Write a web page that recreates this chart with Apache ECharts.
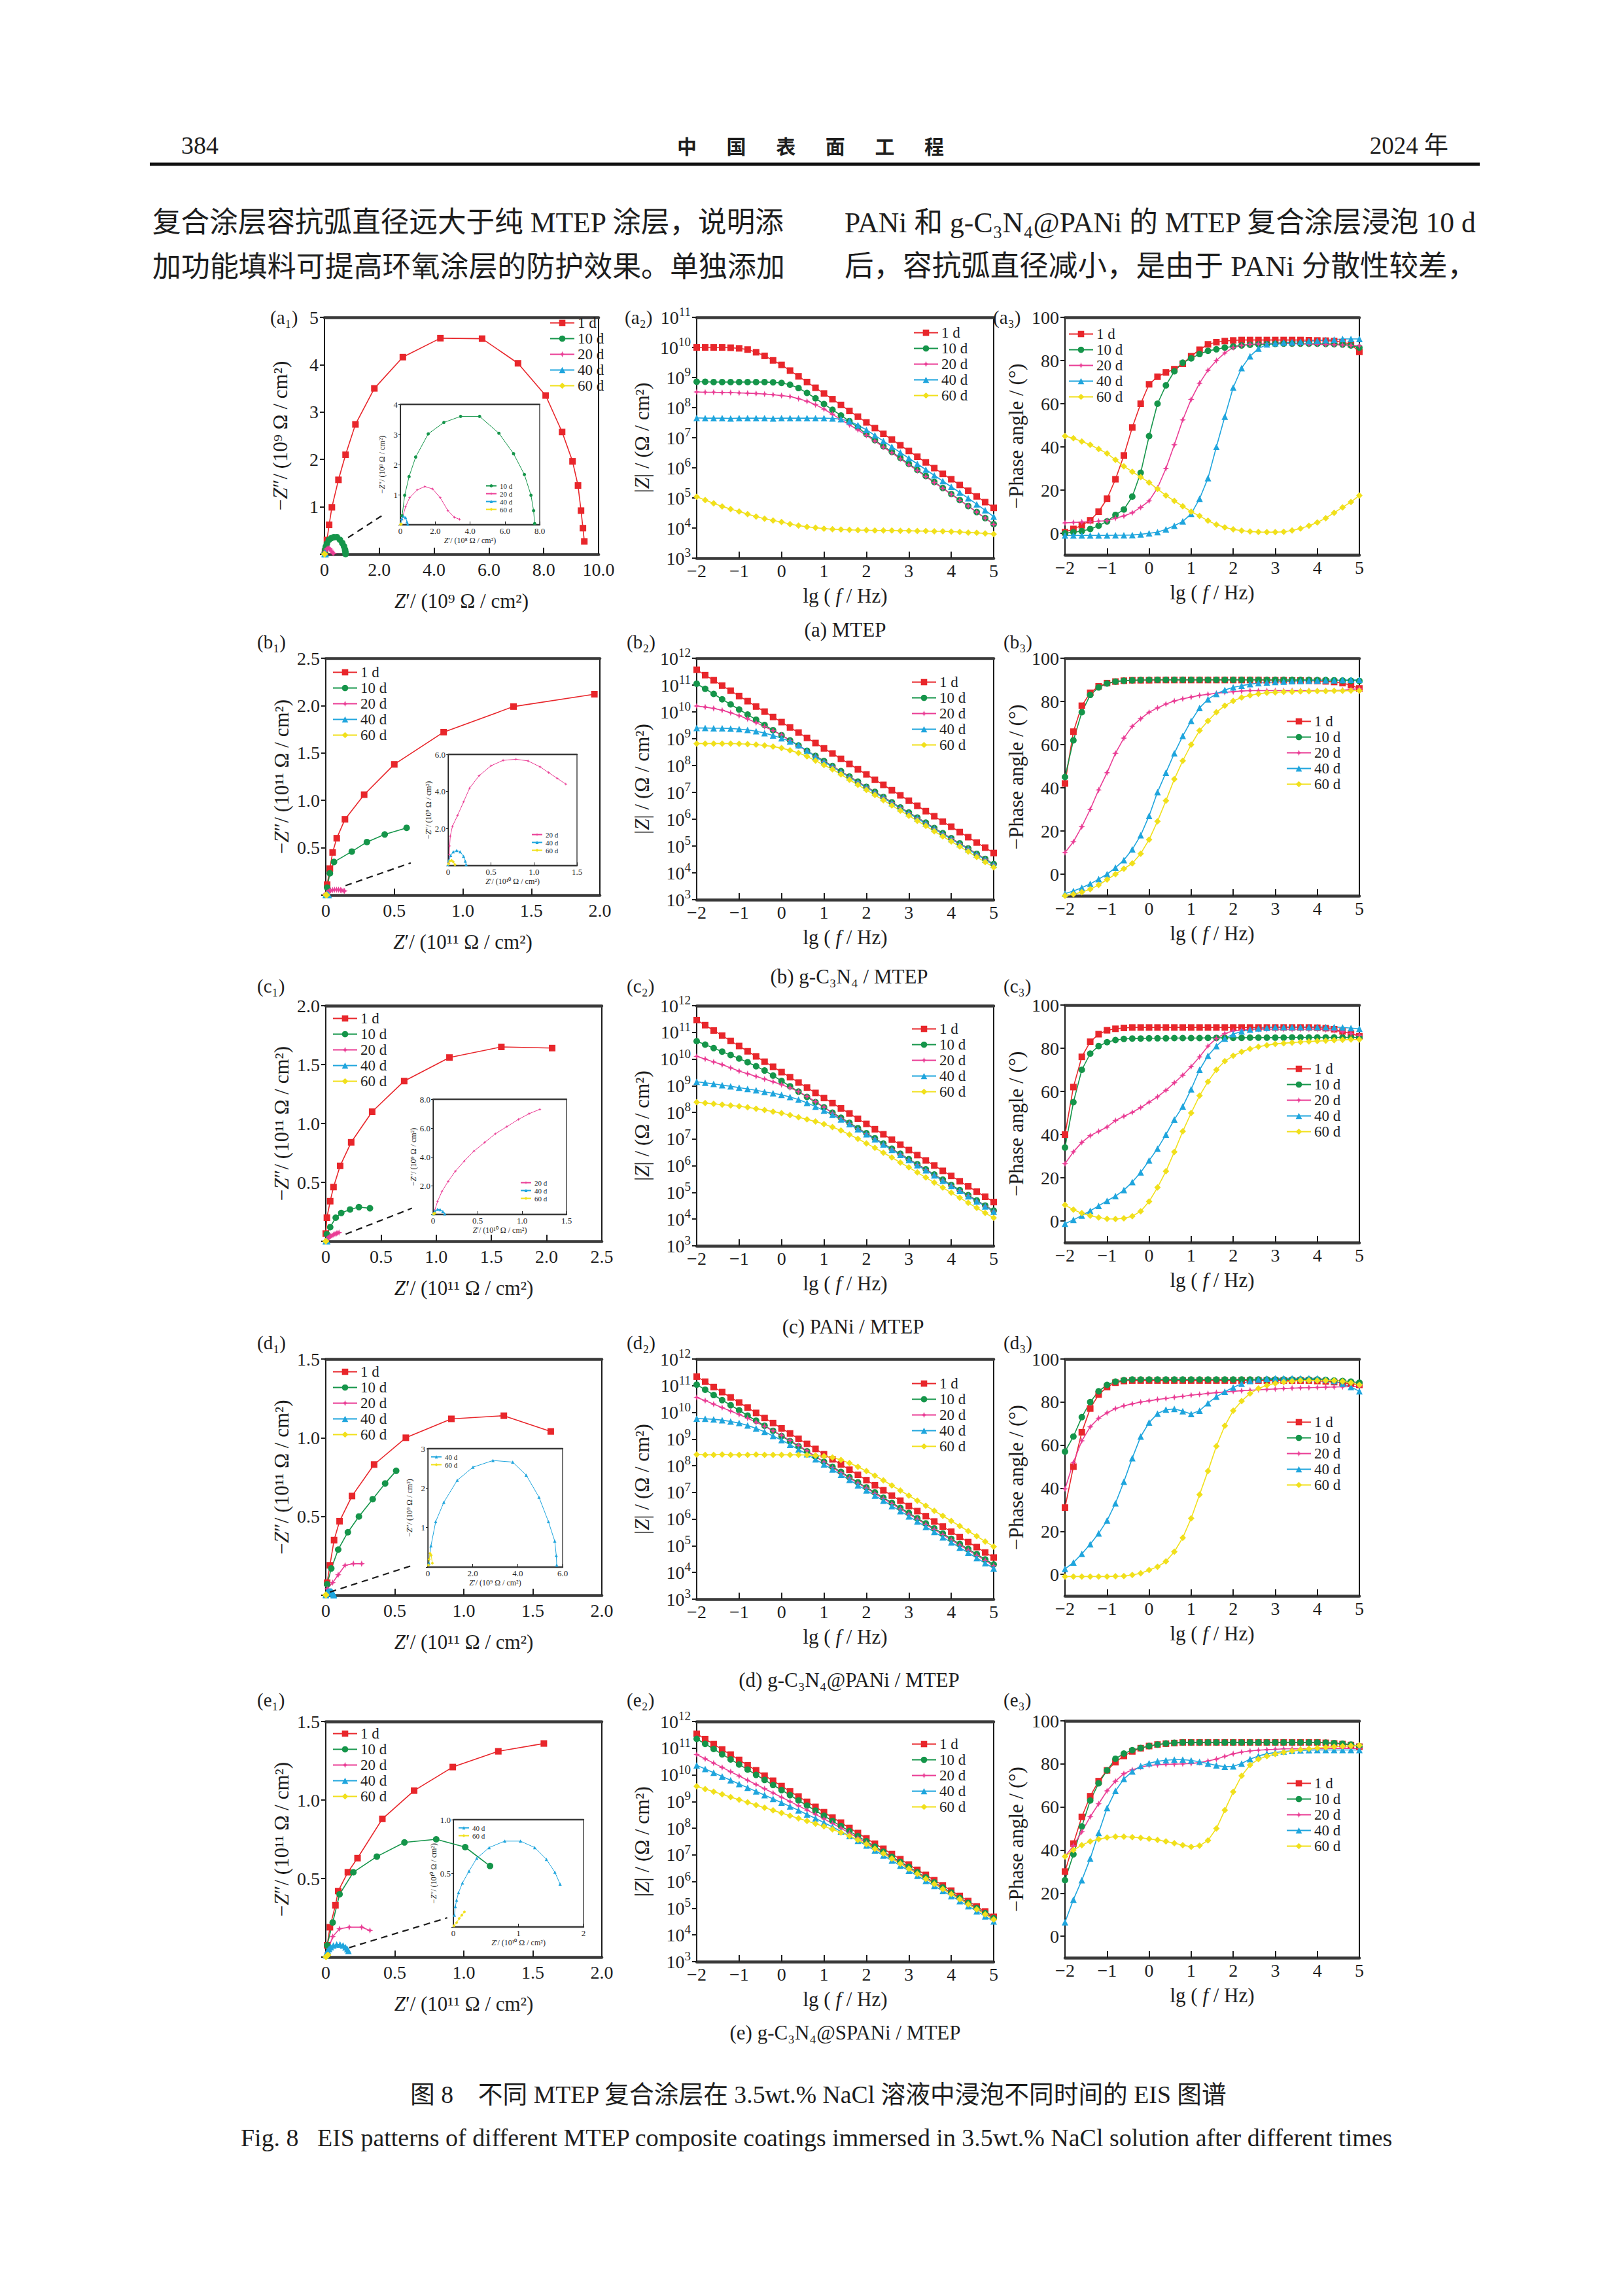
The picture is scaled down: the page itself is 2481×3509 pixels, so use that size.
<!DOCTYPE html>
<html><head><meta charset="utf-8">
<script src="https://cdn.jsdelivr.net/npm/echarts@6/dist/echarts.min.js"></script>
<style>html,body{margin:0;padding:0;background:#fff}#c{width:2481px;height:3509px}</style>
</head><body><div id="c"></div>
<script>
// ---------------- DATA ----------------
const DAYS = ['1 d','10 d','20 d','40 d','60 d'];
// lg(f/Hz) sampling of the Bode plots
const LG_F = [-2,-1.8,-1.6,-1.4,-1.2,-1,-0.8,-0.6,-0.4,-0.2,0,0.2,0.4,0.6,0.8,1,1.2,1.4,1.6,1.8,2,2.2,2.4,2.6,2.8,3,3.2,3.4,3.6,3.8,4,4.2,4.4,4.6,4.8,5];

// (a) MTEP — Nyquist main in 1e9 Ω·cm², inset in 1e8 Ω·cm²
const a1_1d = [[0.02,0.05],[0.09,0.30],[0.17,0.62],[0.27,0.99],[0.51,1.57],[0.77,2.10],[1.13,2.74],[1.82,3.50],[2.86,4.16],[4.23,4.56],[5.75,4.55],[7.06,4.03],[8.07,3.35],[8.67,2.58],[9.05,1.96],[9.25,1.45],[9.36,0.92],[9.43,0.55],[9.48,0.27]];
const a1in_10d = [[0.10,0.30],[0.25,0.98],[0.50,1.60],[0.88,2.25],[1.60,3.02],[2.50,3.40],[3.46,3.60],[4.55,3.60],[5.66,3.04],[6.50,2.36],[7.12,1.67],[7.50,0.98],[7.65,0.47],[7.71,0.04]];
const a1in_20d = [[0.09,0.18],[0.30,0.60],[0.53,0.90],[0.97,1.16],[1.41,1.27],[1.85,1.19],[2.29,0.90],[2.73,0.47],[3.10,0.25],[3.40,0.18]];
const a1in_40d = [[0.03,0.05],[0.08,0.20],[0.18,0.28],[0.30,0.24],[0.38,0.10],[0.42,0.02]];
const a1in_60d = [[0.01,0.01],[0.03,0.02],[0.05,0.02]];
// lg|Z|
const a2_1d = [10.00,10.00,10.00,10.00,9.99,9.97,9.93,9.84,9.72,9.57,9.42,9.23,9.04,8.85,8.66,8.47,8.28,8.09,7.89,7.70,7.51,7.32,7.13,6.94,6.75,6.56,6.37,6.18,5.99,5.80,5.62,5.43,5.24,5.05,4.86,4.67];
const a2_10d = [8.86,8.86,8.85,8.85,8.85,8.85,8.85,8.85,8.85,8.84,8.82,8.76,8.65,8.49,8.31,8.12,7.93,7.74,7.55,7.34,7.12,6.92,6.72,6.53,6.33,6.13,5.93,5.73,5.53,5.33,5.13,4.93,4.73,4.53,4.33,4.13];
const a2_20d = [8.52,8.51,8.51,8.50,8.50,8.49,8.48,8.47,8.45,8.43,8.40,8.37,8.30,8.21,8.10,7.95,7.78,7.60,7.43,7.26,7.08,6.89,6.69,6.50,6.30,6.10,5.91,5.71,5.51,5.32,5.12,4.92,4.73,4.53,4.33,4.12];
const a2_40d = [7.66,7.65,7.65,7.65,7.64,7.65,7.65,7.65,7.65,7.64,7.65,7.65,7.65,7.65,7.65,7.65,7.64,7.62,7.55,7.42,7.26,7.08,6.89,6.70,6.51,6.32,6.13,5.94,5.75,5.56,5.37,5.18,4.99,4.79,4.59,4.38];
const a2_60d = [5.04,4.93,4.82,4.72,4.63,4.55,4.46,4.38,4.31,4.25,4.20,4.13,4.08,4.04,4.01,3.98,3.96,3.95,3.94,3.93,3.93,3.92,3.92,3.92,3.91,3.91,3.90,3.90,3.89,3.89,3.88,3.87,3.85,3.84,3.82,3.80];
// -phase (deg)
const a3_1d = [0.5,2,3.7,6,10,16,25,36,49,60,69,72.5,74.5,76,78.5,82,85,87.5,88.5,89,89.3,89.5,89.5,89.5,89.5,89.5,89.5,89.5,89.5,89.4,89.3,89.2,89,88.5,87.5,84];
const a3_10d = [0,0.5,1,2,3.5,5.5,8.5,11,17,28,45,60,68.5,75,79,81,83,84.5,85.2,86,86.5,87,87.3,87.5,87.6,87.7,87.8,87.8,87.8,87.8,87.8,87.7,87.6,87.4,87,86];
const a3_20d = [4.8,5,5.2,5.4,5.6,5.8,7,8,9.5,12,15,21,30,41,52.5,62,69.5,75.5,80,83.5,86,87,87.5,87.7,87.8,87.8,87.8,87.8,87.7,87.6,87.5,87.4,87.3,87.2,87,86.8];
const a3_40d = [-1,-1,-1,-1,-1,-1,-0.9,-0.9,-0.8,-0.5,0,0.5,1.8,3.5,5.5,9,16,25.5,40,54,67.5,76.5,82,85.5,87.5,88,88.3,88.5,88.7,89,89.2,89.5,89.7,90,90,90];
const a3_60d = [45,44,42.5,41,39,37,34,31,28.5,26,23.5,20.5,17.5,15,12.5,10,8,5.8,4,2.7,1.8,1.2,0.8,0.6,0.5,0.5,0.7,1.3,2.2,3.5,5,7,9.5,12,14.5,17.5];

// (b) g-C3N4/MTEP — Nyquist main 1e11, inset x 1e10 / y 1e9
const b1_1d = [[0.01,0.11],[0.03,0.28],[0.05,0.45],[0.08,0.60],[0.14,0.80],[0.28,1.06],[0.50,1.38],[0.86,1.72],[1.37,1.99],[1.96,2.12]];
const b1_10d = [[0.01,0.08],[0.03,0.23],[0.06,0.35],[0.19,0.46],[0.30,0.56],[0.43,0.64],[0.59,0.71]];
const b1in_20d = [[0.008,0.12],[0.013,0.59],[0.018,1.06],[0.025,1.59],[0.05,2.12],[0.11,2.71],[0.18,3.44],[0.25,4.18],[0.36,4.85],[0.50,5.39],[0.64,5.68],[0.79,5.74],[0.93,5.65],[1.07,5.33],[1.17,5.02],[1.27,4.71],[1.37,4.40]];
const b1in_40d = [[0.00,0.05],[0.01,0.30],[0.03,0.55],[0.06,0.75],[0.10,0.82],[0.14,0.75],[0.18,0.50],[0.20,0.25],[0.21,0.05]];
const b1in_60d = [[0.005,0.10],[0.02,0.25],[0.04,0.28],[0.06,0.20],[0.08,0.05]];
const b2_1d = [11.57,11.37,11.18,10.98,10.79,10.59,10.40,10.20,10.01,9.81,9.62,9.42,9.23,9.03,8.84,8.64,8.45,8.25,8.06,7.86,7.67,7.47,7.28,7.08,6.89,6.69,6.50,6.30,6.11,5.91,5.72,5.52,5.33,5.13,4.94,4.74];
const b2_10d = [11.05,10.86,10.67,10.47,10.28,10.09,9.90,9.71,9.51,9.32,9.13,8.94,8.75,8.55,8.36,8.17,7.98,7.79,7.59,7.40,7.21,7.02,6.83,6.63,6.44,6.25,6.06,5.87,5.67,5.48,5.29,5.10,4.91,4.71,4.52,4.33];
const b2_20d = [10.22,10.18,10.13,10.06,9.97,9.86,9.74,9.60,9.45,9.30,9.14,8.93,8.74,8.54,8.35,8.16,7.97,7.78,7.58,7.39,7.20,7.01,6.82,6.62,6.43,6.24,6.05,5.86,5.66,5.47,5.28,5.09,4.90,4.70,4.51,4.32];
const b2_40d = [9.40,9.40,9.39,9.39,9.38,9.36,9.33,9.28,9.21,9.12,9.02,8.90,8.76,8.55,8.33,8.14,7.95,7.76,7.56,7.37,7.18,6.99,6.80,6.60,6.41,6.22,6.03,5.84,5.64,5.45,5.26,5.07,4.88,4.68,4.49,4.30];
const b2_60d = [8.82,8.82,8.82,8.82,8.82,8.81,8.80,8.78,8.75,8.71,8.65,8.57,8.47,8.34,8.18,8.02,7.86,7.67,7.47,7.28,7.09,6.90,6.71,6.51,6.32,6.13,5.94,5.75,5.55,5.36,5.17,4.98,4.79,4.59,4.40,4.21];
const b3_1d = [42,66,78,84,87,88.5,89.2,89.6,89.8,89.8,89.8,89.9,89.9,89.9,89.9,89.9,89.9,89.9,89.9,89.9,89.9,89.9,89.9,89.9,89.8,89.8,89.8,89.7,89.7,89.6,89.5,89.3,89,88.5,87.5,86];
const b3_10d = [45,62,75,83,86.5,88.3,89.2,89.6,89.8,89.9,90,90,90,90,90,90,90,90,90,90,90,90,90,90,90,90,90,90,90,90,89.9,89.9,89.8,89.7,89.6,89.5];
const b3_20d = [10,15,22,30,39,47,56,63,68.5,72,75,77,78.8,80.2,81.2,82,82.8,83.3,83.8,84.2,84.5,84.8,85,85,85,85,85,85,85,85,85,85,85,85.2,85.5,86];
const b3_40d = [-9,-7.8,-6.3,-4.5,-2.3,0,3,6.5,11.5,18,27,38,47,56,64,71,77,81,83.5,85.3,86.5,87.3,88,88.5,88.8,89,89.2,89.4,89.5,89.6,89.7,89.8,89.8,89.9,90,90];
const b3_60d = [-10,-9.3,-8.3,-7,-5,-2.5,0,2.5,5,9.5,16,24.5,34,44,52.5,60,66.5,71,75,78,80.2,81.8,82.8,83.5,84,84.2,84.4,84.5,84.6,84.7,84.8,84.8,84.9,84.9,85,85];

// (c) PANi/MTEP — Nyquist main 1e11, inset x 1e10 / y 1e9
const c1_1d = [[0.00,0.065],[0.01,0.20],[0.04,0.34],[0.07,0.46],[0.13,0.64],[0.23,0.84],[0.42,1.10],[0.71,1.36],[1.12,1.56],[1.59,1.65],[2.05,1.64]];
const c1_10d = [[0.01,0.06],[0.04,0.12],[0.09,0.20],[0.14,0.24],[0.22,0.27],[0.30,0.29],[0.40,0.28]];
const c1in_20d = [[0.02,0.3],[0.05,0.9],[0.10,1.6],[0.17,2.3],[0.25,3.0],[0.35,3.7],[0.46,4.4],[0.58,5.0],[0.70,5.6],[0.83,6.1],[0.96,6.6],[1.08,7.0],[1.20,7.3]];
const c1in_40d = [[0.00,0.05],[0.02,0.25],[0.05,0.35],[0.08,0.33],[0.11,0.20],[0.13,0.05]];
const c1in_60d = [[0.005,0.03],[0.01,0.06],[0.02,0.08]];
const c2_1d = [11.46,11.27,11.07,10.88,10.68,10.49,10.29,10.10,9.90,9.71,9.51,9.32,9.12,8.93,8.73,8.54,8.35,8.15,7.96,7.76,7.57,7.37,7.18,6.98,6.79,6.59,6.40,6.20,6.01,5.81,5.62,5.42,5.23,5.03,4.84,4.64];
const c2_10d = [10.67,10.54,10.41,10.28,10.15,10.02,9.88,9.73,9.57,9.38,9.18,8.98,8.78,8.58,8.38,8.19,7.99,7.80,7.61,7.41,7.22,7.03,6.83,6.64,6.45,6.25,6.06,5.87,5.67,5.48,5.28,5.09,4.90,4.70,4.51,4.32];
const c2_20d = [10.10,10.00,9.89,9.79,9.67,9.55,9.45,9.35,9.25,9.15,9.04,8.92,8.78,8.60,8.40,8.20,7.97,7.78,7.59,7.39,7.20,7.01,6.81,6.62,6.43,6.23,6.04,5.85,5.65,5.46,5.26,5.07,4.88,4.68,4.49,4.30];
const c2_40d = [9.15,9.11,9.07,9.02,8.98,8.93,8.88,8.83,8.77,8.72,8.66,8.58,8.48,8.36,8.22,8.07,7.91,7.74,7.56,7.37,7.18,6.99,6.80,6.60,6.41,6.22,6.02,5.83,5.64,5.44,5.25,5.06,4.86,4.67,4.48,4.28];
const c2_60d = [8.38,8.35,8.32,8.29,8.26,8.23,8.19,8.14,8.09,8.03,7.97,7.90,7.82,7.74,7.66,7.56,7.45,7.32,7.17,7.01,6.84,6.67,6.49,6.31,6.12,5.94,5.75,5.56,5.37,5.18,4.99,4.80,4.61,4.42,4.23,4.05];
const c3_1d = [40,62,76,83,86.5,88.3,89,89.4,89.6,89.6,89.6,89.6,89.6,89.6,89.6,89.6,89.6,89.6,89.6,89.6,89.6,89.6,89.6,89.6,89.6,89.6,89.6,89.6,89.6,89.6,89.5,89.3,88.8,87.8,86.8,85.5];
const c3_10d = [34,55,70,77.5,81,82.8,83.8,84.3,84.5,84.5,84.6,84.6,84.6,84.7,84.7,84.7,84.7,84.8,84.8,84.8,84.8,84.8,84.9,84.9,84.9,84.9,84.9,85,85,85,85,85,85,85,85,85];
const c3_20d = [26.5,32,36.4,39.5,41.5,43.5,46.5,48.5,50.3,52.5,55,57.5,60.5,64,67.5,71.5,76,81,84.5,86.8,88,88.5,88.8,88.8,88.8,88.8,88.8,88.8,88.8,88.8,88.8,88.6,88.2,87.6,86.8,86];
const c3_40d = [-1.3,0.5,2.5,4.7,7,9.3,11.5,14.3,18,22.5,28,33.5,40,47,53,61,70,76.5,81,84.5,86.5,87.8,88.6,89.2,89.5,89.8,89.8,89.8,89.8,89.8,89.8,89.8,89.8,89.6,89.3,89];
const c3_60d = [7.4,5.2,3.6,2.4,1.6,1,0.9,1.2,2.2,4.5,9,15.5,23,32,41.5,50,58,64.5,70,74,76.5,78.3,79.7,80.7,81.4,82,82.3,82.6,82.9,83.1,83.3,83.5,83.7,83.9,84,84];

// (d) g-C3N4@PANi/MTEP — Nyquist main 1e11, inset 1e9
const d1_1d = [[0.01,0.08],[0.03,0.19],[0.06,0.35],[0.10,0.47],[0.19,0.63],[0.35,0.83],[0.58,1.00],[0.91,1.12],[1.29,1.14],[1.63,1.04]];
const d1_10d = [[0.01,0.07],[0.04,0.17],[0.09,0.29],[0.16,0.40],[0.24,0.50],[0.34,0.61],[0.43,0.71],[0.51,0.79]];
const d1_20d = [[0.01,0.04],[0.05,0.08],[0.09,0.13],[0.14,0.19],[0.20,0.20],[0.26,0.20]];
const d1in_40d = [[0.05,0.10],[0.14,0.54],[0.35,1.15],[0.71,1.64],[1.31,2.20],[2.01,2.53],[2.90,2.70],[3.78,2.66],[4.38,2.33],[4.95,1.77],[5.37,1.15],[5.65,0.66],[5.72,0.29],[5.74,0.05]];
const d1in_60d = [[0.03,0.05],[0.06,0.20],[0.10,0.35],[0.15,0.30],[0.20,0.10]];
const d2_1d = [11.34,11.15,10.95,10.76,10.56,10.37,10.18,9.98,9.79,9.60,9.40,9.21,9.01,8.82,8.63,8.43,8.24,8.05,7.85,7.66,7.46,7.27,7.08,6.88,6.69,6.49,6.30,6.11,5.91,5.72,5.53,5.33,5.14,4.95,4.75,4.56];
const d2_10d = [11.04,10.85,10.65,10.46,10.27,10.08,9.88,9.69,9.50,9.31,9.11,8.92,8.73,8.54,8.34,8.15,7.96,7.77,7.57,7.38,7.19,7.00,6.80,6.61,6.42,6.23,6.03,5.84,5.65,5.46,5.26,5.07,4.88,4.69,4.49,4.30];
const d2_20d = [10.56,10.44,10.31,10.18,10.05,9.92,9.78,9.63,9.48,9.31,9.14,8.95,8.76,8.56,8.35,8.14,7.93,7.74,7.54,7.35,7.16,6.96,6.77,6.58,6.38,6.19,6.00,5.80,5.61,5.42,5.22,5.03,4.84,4.64,4.45,4.25];
const d2_40d = [9.77,9.76,9.74,9.71,9.66,9.60,9.51,9.40,9.27,9.12,8.96,8.79,8.61,8.43,8.24,8.05,7.86,7.66,7.47,7.27,7.08,6.88,6.69,6.49,6.30,6.10,5.91,5.71,5.52,5.32,5.13,4.93,4.74,4.54,4.35,4.15];
const d2_60d = [8.42,8.41,8.41,8.42,8.41,8.41,8.41,8.42,8.41,8.41,8.41,8.41,8.41,8.40,8.38,8.36,8.31,8.22,8.10,7.96,7.80,7.63,7.45,7.26,7.07,6.88,6.69,6.50,6.31,6.12,5.93,5.74,5.55,5.36,5.16,4.97];
const d3_1d = [31,50,66,77,83.5,87,89,89.8,90,90,90,90,90,90,90,90,90,90,90,90,90,90,90,90,90,90,90,90,90,90,89.8,89.6,89.3,89,88.5,88];
const d3_10d = [57,64,73,80,85,88,89.5,90.2,90.5,90.5,90.5,90.5,90.5,90.5,90.5,90.5,90.5,90.5,90.5,90.5,90.5,90.5,90.5,90.5,90.5,90.5,90.5,90.5,90.5,90.5,90.5,90.3,90,89.8,89.5,89];
const d3_20d = [39.7,52,62,68.5,72.5,75,77,78.3,79.2,80,80.6,81.2,81.7,82.2,82.7,83.2,83.6,84,84.4,84.7,85,85.3,85.5,85.7,85.9,86.1,86.3,86.5,86.6,86.7,86.8,86.9,87,87.1,87.2,87.2];
const d3_40d = [2.5,5.5,9.5,14,19,25,33,43,54,64,70.5,74.6,76.5,76.8,75.8,74.5,76,79.5,82.5,84.8,86.8,88.5,89.8,90.5,90.9,91,91,91,91,91,91,90.5,89.8,88.5,87,85];
const d3_60d = [-1,-1,-1,-1,-1,-1,-0.9,-0.8,-0.3,0.5,2,3.5,6,10.5,17,26,37,48,59.5,69,76,80.5,84,86.3,87.8,88.7,89.3,89.7,90,90,90,90,90,89.6,89,88];

// (e) g-C3N4@SPANi/MTEP — Nyquist main 1e11, inset 1e10
const e1_1d = [[0.01,0.075],[0.03,0.19],[0.07,0.33],[0.09,0.42],[0.16,0.54],[0.23,0.63],[0.41,0.88],[0.64,1.06],[0.92,1.21],[1.25,1.31],[1.58,1.36]];
const e1_10d = [[0.01,0.075],[0.05,0.22],[0.10,0.40],[0.20,0.54],[0.37,0.64],[0.57,0.73],[0.80,0.75],[1.01,0.70],[1.19,0.58]];
const e1_20d = [[0.01,0.03],[0.05,0.13],[0.10,0.18],[0.17,0.19],[0.26,0.19],[0.32,0.17]];
const e1in_40d = [[0.017,0.11],[0.03,0.19],[0.05,0.25],[0.08,0.32],[0.14,0.41],[0.24,0.52],[0.36,0.64],[0.55,0.74],[0.79,0.80],[1.03,0.80],[1.25,0.74],[1.43,0.63],[1.56,0.51],[1.64,0.40]];
const e1in_60d = [[0.01,0.01],[0.05,0.04],[0.09,0.08],[0.13,0.11],[0.17,0.14]];
const e2_1d = [11.54,11.34,11.15,10.95,10.76,10.56,10.36,10.17,9.97,9.78,9.58,9.38,9.19,8.99,8.80,8.60,8.40,8.21,8.01,7.82,7.62,7.42,7.23,7.03,6.84,6.64,6.44,6.25,6.05,5.86,5.66,5.46,5.27,5.07,4.88,4.68];
const e2_10d = [11.35,11.16,10.97,10.77,10.58,10.39,10.20,10.00,9.81,9.62,9.43,9.24,9.04,8.85,8.66,8.47,8.27,8.08,7.89,7.70,7.51,7.31,7.12,6.93,6.74,6.55,6.35,6.16,5.97,5.78,5.59,5.39,5.20,5.01,4.82,4.63];
const e2_20d = [10.76,10.60,10.44,10.28,10.12,9.96,9.80,9.64,9.48,9.32,9.16,9.00,8.84,8.68,8.52,8.35,8.18,8.00,7.82,7.64,7.45,7.26,7.07,6.88,6.69,6.50,6.31,6.12,5.93,5.74,5.55,5.36,5.17,4.98,4.79,4.60];
const e2_40d = [10.36,10.22,10.08,9.94,9.80,9.66,9.52,9.38,9.24,9.10,8.96,8.82,8.67,8.52,8.37,8.21,8.05,7.88,7.71,7.53,7.35,7.17,6.98,6.79,6.60,6.41,6.22,6.03,5.84,5.65,5.46,5.27,5.08,4.89,4.70,4.51];
const e2_60d = [9.57,9.47,9.37,9.27,9.17,9.07,8.97,8.87,8.77,8.67,8.57,8.47,8.37,8.27,8.17,8.07,7.96,7.84,7.71,7.56,7.40,7.23,7.05,6.86,6.67,6.48,6.29,6.10,5.91,5.72,5.53,5.34,5.15,4.96,4.77,4.58];
const e3_1d = [30,43,55.4,65,72,77,80.8,83.7,85.8,87.3,88.3,89,89.4,89.7,90,90,90,90,90,90,90,90,90,90,90,90,90,90,90,90,90,89.8,89.5,89.2,88.8,88];
const e3_10d = [26,38,51,63,71,77,82.4,84.8,86.4,87.4,88.3,89,89.5,89.8,90,90,90,90,90,90,90,90,90,90,90,90,90,90,90,90,90,89.9,89.7,89.4,89,88.2];
const e3_20d = [37,42,48.5,55.5,61.5,67.5,72,75.5,77.3,78.5,79.3,79.6,79.8,79.9,80,80.2,80.6,81.4,82.2,83.5,84.7,85.5,86,86.4,86.6,86.8,87,87,87,87.1,87.1,87.1,87.2,87.2,87.2,87.2];
const e3_40d = [6.5,17,26,36,48,59.5,67.5,73,76.5,79,80.3,81.2,81.7,82,82,81.6,81,80.2,79.3,78.7,78.9,80.2,82.2,83.7,84.7,85.3,85.8,86.1,86.3,86.4,86.5,86.5,86.5,86.5,86.5,86.5];
const e3_60d = [37,40,42.3,44,45.1,45.8,46.2,46.2,46,45.7,45.2,44.7,44,43.2,42.3,41.5,42,44.5,50,58.5,67,74.5,79.5,82.2,83.6,84.6,85.4,86,86.6,87,87.4,87.7,88,88.2,88.4,88.6];

// ---------------- STYLE ----------------
const INK = '#1e1e1e';
const SER = "'Liberation Serif', 'Times New Roman', serif";
const MIX = "'Liberation Serif', 'Noto Sans CJK SC', serif";
const CJK = "'Noto Sans CJK SC', sans-serif";
const COL = {'1 d':'#e8262b','10 d':'#15954a','20 d':'#ea3d95','40 d':'#1fa5dd','60 d':'#f1e01b'};
const SYM = {'1 d':'rect','10 d':'circle','20 d':'path://M0,-10L2.6,-2.6L10,0L2.6,2.6L0,10L-2.6,2.6L-10,0L-2.6,-2.6Z','40 d':'triangle','60 d':'diamond'};

const grids=[], xAxes=[], yAxes=[], series=[], legends=[], G=[];

const f0 = v => Math.abs(v) < 1e-9 ? '0' : v.toFixed(1);
const fInt = v => String(Math.round(v));
const fNo0Int = v => Math.abs(v) < 1e-9 ? '' : String(Math.round(v));
const fNo0Dec = v => Math.abs(v) < 1e-9 ? '' : v.toFixed(1);
const fLg = v => (v < 0 ? '−' : '') + Math.abs(Math.round(v));
const fPow = v => '{b|10}{s|' + Math.round(v) + '}';
const POW_RICH = {b:{fontFamily:SER,fontSize:28,color:INK,lineHeight:36},s:{fontFamily:SER,fontSize:19,color:INK,verticalAlign:'top',lineHeight:19}};

function panel(p) {
  const gi = grids.length, sm = !!p.small;
  grids.push({left:p.box[0], top:p.box[1], width:p.box[2], height:p.box[3], show:true, borderColor:'#1a1a1a', borderWidth: sm?1.2:2, backgroundColor:'rgba(0,0,0,0)', containLabel:false, outerBoundsMode:'none'});
  const lf = sm?13:28, nf = sm?12:31, tl = sm?5:10;
  const ns = {fontFamily:SER, fontSize:nf, color:INK, rich:{i:{fontFamily:SER,fontSize:nf,fontStyle:'italic',color:INK}}};
  xAxes.push({gridIndex:gi, type:'value', min:p.x.min, max:p.x.max, interval:p.x.int, position:'bottom', splitLine:{show:false},
    axisLine:{show:true,onZero:false,lineStyle:{color:'#3a3a3a',width:sm?2.4:4.5}},
    axisTick:{show:true,inside:true,length:tl,lineStyle:{color:INK,width:sm?1:2}},
    axisLabel:{show:true,margin:p.x.margin!=null?p.x.margin:(sm?3:8),formatter:p.x.fmt,color:INK,fontFamily:SER,fontSize:lf},
    name:p.x.name, nameLocation:'middle', nameGap:p.x.gap, nameTextStyle:ns});
  const xi = xAxes.length-1;
  xAxes.push({gridIndex:gi, type:'value', min:p.x.min, max:p.x.max, position:'top', splitLine:{show:false},
    axisLine:{show:true,onZero:false,lineStyle:{color:'#3a3a3a',width:sm?2.4:4.5}}, axisTick:{show:false}, axisLabel:{show:false}});
  const yl = {show:true,margin:p.y.margin!=null?p.y.margin:(sm?3:8),formatter:p.y.fmt,color:INK,fontFamily:SER,fontSize:lf};
  if (p.y.rich) yl.rich = p.y.rich;
  const yt = {show:true,inside:false,length:sm?3:7,lineStyle:{color:INK,width:sm?1:2}};
  if (p.y.custom) { yl.customValues = p.y.custom; yt.customValues = p.y.custom; }
  yAxes.push({gridIndex:gi, type:'value', min:p.y.min, max:p.y.max, interval:p.y.int, position:'left', splitLine:{show:false},
    axisLine:{show:true,onZero:false,lineStyle:{color:INK,width:sm?1.2:2}}, axisTick:yt, axisLabel:yl,
    name:p.y.name, nameLocation:'middle', nameGap:p.y.gap, nameRotate:90, nameTextStyle:ns});
  return {xi, yi:yAxes.length-1, sm, ms:p.ms||10};
}
function nyq(box, xmax, xint, ymax, yint, yfmt, unit) {
  return panel({box, ms:10,
    x:{min:0,max:xmax,int:xint,fmt:f0,name:'{i|Z}′/ ('+unit+' Ω / cm²)',gap:56,margin:9},
    y:{min:0,max:ymax,int:yint,fmt:yfmt,name:'−{i|Z}″/ ('+unit+' Ω / cm²)',gap:52,margin:9}});
}
function zmod(box, ymax) {
  return panel({box, ms:10,
    x:{min:-2,max:5,int:1,fmt:fLg,name:'lg ( {i|f} / Hz)',gap:42,margin:5},
    y:{min:3,max:ymax,int:1,fmt:fPow,rich:POW_RICH,name:'|{i|Z}| / (Ω / cm²)',gap:68,margin:9}});
}
function phase(box) {
  return panel({box, ms:10,
    x:{min:-2,max:5,int:1,fmt:fLg,name:'lg ( {i|f} / Hz)',gap:42,margin:5},
    y:{min:-10,max:100,int:10,custom:[0,20,40,60,80,100],fmt:fInt,name:'−Phase angle / (°)',gap:59,margin:9}});
}
function inset(box, xmax, xint, xfmt, ymax, yint, yfmt, ux, uy) {
  return panel({box, small:true,
    x:{min:0,max:xmax,int:xint,fmt:xfmt,name:'{i|Z}′/ ('+ux+' Ω / cm²)',gap:18,margin:3},
    y:{min:0,max:ymax,int:yint,fmt:yfmt,name:'−{i|Z}″/ ('+uy+' Ω / cm²)',gap:22,margin:4}});
}
function line(ax, name, pts) {
  const s = {type:'line', name, xAxisIndex:ax.xi, yAxisIndex:ax.yi, data:pts, symbol:SYM[name], symbolSize:ax.sm?5:ax.ms,
    showSymbol:true, clip:true, itemStyle:{color:COL[name]}, lineStyle:{color:COL[name],width:ax.sm?1:1.6},
    emphasis:{disabled:true}, silent:true, animation:false, z:3};
  series.push(s); return s;
}
const bode = arr => LG_F.map((f,i) => [f, arr[i]]);
const toUnit = (arr, fx, fy) => arr.map(p => [p[0]*fx, p[1]*fy]);
function arrow(s, from, to) {
  s.markLine = {silent:true, symbol:['none','arrow'], symbolSize:[0,18], label:{show:false}, emphasis:{disabled:true}, animation:false,
    lineStyle:{type:[10,7], color:'#1a1a1a', width:2.2}, data:[[{coord:from},{coord:to}]]};
}
function legend(left, top, names, sm) {
  legends.push({show:true, orient:'vertical', left, top, data:names, padding:0, selectedMode:false,
    itemWidth:sm?16:37, itemHeight:sm?6:12, itemGap:1,
    textStyle:{fontFamily:SER, fontSize:sm?11:23, color:INK}});
}
function txt(x, y, text, o) {
  o = o || {};
  G.push({type:'text', x, y, silent:true, z:10, scaleX:o.sx||1,
    style:{text, fill:INK, fontFamily:o.ff||SER, fontSize:o.fs||30, fontWeight:o.fw||'normal', align:o.al||'left', verticalAlign:'middle'}});
}
const mctx = document.createElement('canvas').getContext('2d');
function fit(x, y, text, w, fs, ff, fw) {
  mctx.font = (fw||'normal') + ' ' + fs + 'px ' + ff;
  const nat = mctx.measureText(text).width;
  txt(x, y, text, {fs, ff, fw, sx: nat > 0 ? w/nat : 1});
}

// ---------------- LAYOUT (px) ----------------
const C1 = [498, 419], C2 = [1065, 454], C3 = [1628, 450];
const N5 = DAYS;

// Row a
let ax = nyq([496,485,419,362], 10, 2, 5, 1, fNo0Int, '10⁹');
let s1 = line(ax, '1 d', a1_1d);
line(ax, '10 d', toUnit(a1in_10d, 0.1, 0.1));
line(ax, '20 d', toUnit(a1in_20d, 0.1, 0.1));
line(ax, '40 d', toUnit(a1in_40d, 0.1, 0.1));
line(ax, '60 d', toUnit(a1in_60d, 0.1, 0.1));
arrow(s1, [0.86,0.35], [2.14,0.83]);
legend(840, 482, N5);
ax = zmod([C2[0],485,C2[1],368], 11);
[a2_1d,a2_10d,a2_20d,a2_40d,a2_60d].forEach((a,i) => line(ax, DAYS[i], bode(a)));
legend(1396, 497, N5);
ax = phase([C3[0],485,C3[1],363]);
[a3_1d,a3_10d,a3_20d,a3_40d,a3_60d].forEach((a,i) => line(ax, DAYS[i], bode(a)));
legend(1633, 499, N5);

// Row b
ax = nyq([C1[0],1006,C1[1],362], 2.0, 0.5, 2.5, 0.5, fNo0Dec, '10¹¹');
s1 = line(ax, '1 d', b1_1d);
line(ax, '10 d', b1_10d);
line(ax, '20 d', toUnit(b1in_20d, 0.1, 0.01));
line(ax, '40 d', toUnit(b1in_40d, 0.1, 0.01));
line(ax, '60 d', toUnit(b1in_60d, 0.1, 0.01));
arrow(s1, [0.144,0.10], [0.62,0.34]);
legend(508, 1016, N5);
ax = zmod([C2[0],1006,C2[1],369], 12);
[b2_1d,b2_10d,b2_20d,b2_40d,b2_60d].forEach((a,i) => line(ax, DAYS[i], bode(a)));
legend(1393, 1031, N5);
ax = phase([C3[0],1006,C3[1],363]);
[b3_1d,b3_10d,b3_20d,b3_40d,b3_60d].forEach((a,i) => line(ax, DAYS[i], bode(a)));
legend(1966, 1091, N5);

// Row c
ax = nyq([C1[0],1537,C1[1]+3,360], 2.5, 0.5, 2.0, 0.5, fNo0Dec, '10¹¹');
s1 = line(ax, '1 d', c1_1d);
line(ax, '10 d', c1_10d);
line(ax, '20 d', toUnit(c1in_20d, 0.1, 0.01));
line(ax, '40 d', toUnit(c1in_40d, 0.1, 0.01));
line(ax, '60 d', toUnit(c1in_60d, 0.1, 0.01));
arrow(s1, [0.18,0.06], [0.78,0.28]);
legend(508, 1545, N5);
ax = zmod([C2[0],1537,C2[1],367], 12);
[c2_1d,c2_10d,c2_20d,c2_40d,c2_60d].forEach((a,i) => line(ax, DAYS[i], bode(a)));
legend(1393, 1561, N5);
ax = phase([C3[0],1536,C3[1],363]);
[c3_1d,c3_10d,c3_20d,c3_40d,c3_60d].forEach((a,i) => line(ax, DAYS[i], bode(a)));
legend(1966, 1622, N5);

// Row d
ax = nyq([C1[0],2077,C1[1]+3,361], 2.0, 0.5, 1.5, 0.5, fNo0Dec, '10¹¹');
s1 = line(ax, '1 d', d1_1d);
line(ax, '10 d', d1_10d);
line(ax, '20 d', d1_20d);
line(ax, '40 d', toUnit(d1in_40d, 0.01, 0.01));
line(ax, '60 d', toUnit(d1in_60d, 0.01, 0.01));
arrow(s1, [0.03,0.02], [0.63,0.19]);
legend(508, 2085, N5);
ax = zmod([C2[0],2077,C2[1],367], 12);
[d2_1d,d2_10d,d2_20d,d2_40d,d2_60d].forEach((a,i) => line(ax, DAYS[i], bode(a)));
legend(1393, 2103, N5);
ax = phase([C3[0],2077,C3[1],362]);
[d3_1d,d3_10d,d3_20d,d3_40d,d3_60d].forEach((a,i) => line(ax, DAYS[i], bode(a)));
legend(1966, 2162, N5);

// Row e
ax = nyq([C1[0],2631,C1[1]+3,360], 2.0, 0.5, 1.5, 0.5, fNo0Dec, '10¹¹');
s1 = line(ax, '1 d', e1_1d);
line(ax, '10 d', e1_10d);
line(ax, '20 d', e1_20d);
line(ax, '40 d', toUnit(e1in_40d, 0.1, 0.1));
line(ax, '60 d', toUnit(e1in_60d, 0.1, 0.1));
arrow(s1, [0.17,0.06], [0.88,0.25]);
legend(508, 2638, N5);
ax = zmod([C2[0],2631,C2[1],367], 12);
[e2_1d,e2_10d,e2_20d,e2_40d,e2_60d].forEach((a,i) => line(ax, DAYS[i], bode(a)));
legend(1393, 2654, N5);
ax = phase([C3[0],2630,C3[1],362]);
[e3_1d,e3_10d,e3_20d,e3_40d,e3_60d].forEach((a,i) => line(ax, DAYS[i], bode(a)));
legend(1966, 2714, N5);

// Insets
ax = inset([612,618,213,184], 8, 2, f0, 4, 1, fNo0Int, '10⁸', '10⁸');
line(ax,'10 d',a1in_10d); line(ax,'20 d',a1in_20d); line(ax,'40 d',a1in_40d); line(ax,'60 d',a1in_60d);
legend(742, 737, ['10 d','20 d','40 d','60 d'], true);
ax = inset([685,1153,197,170], 1.5, 0.5, f0, 6, 2, fNo0Dec, '10¹⁰', '10⁹');
line(ax,'20 d',b1in_20d); line(ax,'40 d',b1in_40d); line(ax,'60 d',b1in_60d);
legend(812, 1270, ['20 d','40 d','60 d'], true);
ax = inset([662,1680,204,176], 1.5, 0.5, f0, 8, 2, fNo0Dec, '10¹⁰', '10⁹');
line(ax,'20 d',c1in_20d); line(ax,'40 d',c1in_40d); line(ax,'60 d',c1in_60d);
legend(795, 1802, ['20 d','40 d','60 d'], true);
ax = inset([654,2214,206,181], 6, 2, f0, 3, 1, fNo0Int, '10⁹', '10⁹');
line(ax,'40 d',d1in_40d); line(ax,'60 d',d1in_60d);
legend(658, 2221, ['40 d','60 d'], true);
ax = inset([693,2781,199,164], 2, 1, fInt, 1.0, 0.5, fNo0Dec, '10¹⁰', '10¹⁰');
line(ax,'40 d',e1in_40d); line(ax,'60 d',e1in_60d);
legend(700, 2788, ['40 d','60 d'], true);

// ---------------- PAGE TEXT ----------------
txt(277, 222, '384', {fs:38});
['中','国','表','面','工','程'].forEach((ch,i) => txt(1050 + i*75.6, 222, ch, {fs:30, ff:CJK, fw:'bold', al:'center'}));
txt(2214, 222, '2024 年', {fs:37, ff:MIX, al:'right'});
G.push({type:'line', silent:true, shape:{x1:229,y1:251,x2:2262,y2:251}, style:{stroke:'#111',lineWidth:5}});
fit(233, 340, '复合涂层容抗弧直径远大于纯 MTEP 涂层，说明添', 967, 44, MIX);
fit(233, 408, '加功能填料可提高环氧涂层的防护效果。单独添加', 967, 44, MIX);
fit(1291, 340, 'PANi 和 g-C₃N₄@PANi 的 MTEP 复合涂层浸泡 10 d', 967, 44, MIX);
fit(1291, 408, '后，容抗弧直径减小，是由于 PANi 分散性较差，', 967, 44, MIX);

const PL = [['(a₁)',413,485],['(a₂)',955,485],['(a₃)',1518,485],
  ['(b₁)',393,981],['(b₂)',958,981],['(b₃)',1534,981],
  ['(c₁)',393,1507],['(c₂)',958,1507],['(c₃)',1534,1507],
  ['(d₁)',393,2052],['(d₂)',958,2052],['(d₃)',1534,2052],
  ['(e₁)',393,2598],['(e₂)',958,2598],['(e₃)',1534,2598]];
PL.forEach(p => txt(p[1], p[2], p[0], {fs:29}));

txt(1292, 962, '(a) MTEP', {fs:31, al:'center'});
txt(1298, 1492, '(b) g-C₃N₄ / MTEP', {fs:31, al:'center'});
txt(1304, 2027, '(c) PANi / MTEP', {fs:31, al:'center'});
txt(1298, 2567, '(d) g-C₃N₄@PANi / MTEP', {fs:31, al:'center'});
txt(1292, 3106, '(e) g-C₃N₄@SPANi / MTEP', {fs:31, al:'center'});

fit(627, 3201, '图 8　不同 MTEP 复合涂层在 3.5wt.% NaCl 溶液中浸泡不同时间的 EIS 图谱', 1249, 38, MIX);
fit(368, 3268, 'Fig. 8   EIS patterns of different MTEP composite coatings immersed in 3.5wt.% NaCl solution after different times', 1763, 37, SER);

// ---------------- RENDER ----------------
const chart = echarts.init(document.getElementById('c'), null, {renderer:'svg', width:2481, height:3509});
chart.setOption({
  backgroundColor:'#ffffff', animation:false,
  grid:grids, xAxis:xAxes, yAxis:yAxes, series:series, legend:legends, graphic:G
});
</script></body></html>
